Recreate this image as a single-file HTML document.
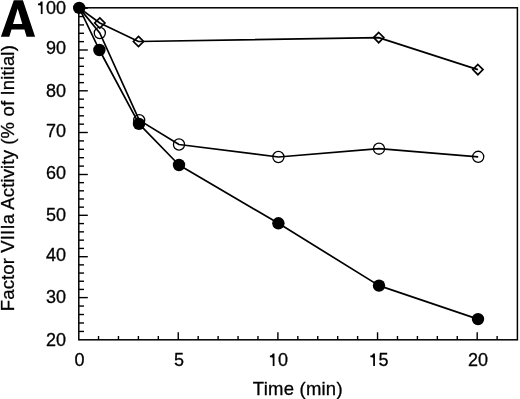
<!DOCTYPE html>
<html><head><meta charset="utf-8"><style>
html,body{margin:0;padding:0;background:#fff;}
body{width:520px;height:399px;overflow:hidden;}
svg{display:block;will-change:transform;font-family:"Liberation Sans",sans-serif;font-size:18px;}
text{stroke:#000;stroke-width:0.3px;}
</style></head><body>
<svg width="520" height="399" viewBox="0 0 520 399">
<rect x="78.8" y="7.8" width="438.60" height="332.00" fill="none" stroke="#000" stroke-width="1.5"/>
<line x1="78.8" y1="331.44" x2="84.00" y2="331.44" stroke="#000" stroke-width="1.4"/>
<line x1="78.8" y1="322.98" x2="84.00" y2="322.98" stroke="#000" stroke-width="1.4"/>
<line x1="78.8" y1="314.52" x2="84.00" y2="314.52" stroke="#000" stroke-width="1.4"/>
<line x1="78.8" y1="306.06" x2="84.00" y2="306.06" stroke="#000" stroke-width="1.4"/>
<line x1="78.8" y1="297.60" x2="87.80" y2="297.60" stroke="#000" stroke-width="1.4"/>
<line x1="78.8" y1="289.42" x2="84.00" y2="289.42" stroke="#000" stroke-width="1.4"/>
<line x1="78.8" y1="281.24" x2="84.00" y2="281.24" stroke="#000" stroke-width="1.4"/>
<line x1="78.8" y1="273.06" x2="84.00" y2="273.06" stroke="#000" stroke-width="1.4"/>
<line x1="78.8" y1="264.88" x2="84.00" y2="264.88" stroke="#000" stroke-width="1.4"/>
<line x1="78.8" y1="256.70" x2="87.80" y2="256.70" stroke="#000" stroke-width="1.4"/>
<line x1="78.8" y1="248.42" x2="84.00" y2="248.42" stroke="#000" stroke-width="1.4"/>
<line x1="78.8" y1="240.14" x2="84.00" y2="240.14" stroke="#000" stroke-width="1.4"/>
<line x1="78.8" y1="231.86" x2="84.00" y2="231.86" stroke="#000" stroke-width="1.4"/>
<line x1="78.8" y1="223.58" x2="84.00" y2="223.58" stroke="#000" stroke-width="1.4"/>
<line x1="78.8" y1="215.30" x2="87.80" y2="215.30" stroke="#000" stroke-width="1.4"/>
<line x1="78.8" y1="207.14" x2="84.00" y2="207.14" stroke="#000" stroke-width="1.4"/>
<line x1="78.8" y1="198.98" x2="84.00" y2="198.98" stroke="#000" stroke-width="1.4"/>
<line x1="78.8" y1="190.82" x2="84.00" y2="190.82" stroke="#000" stroke-width="1.4"/>
<line x1="78.8" y1="182.66" x2="84.00" y2="182.66" stroke="#000" stroke-width="1.4"/>
<line x1="78.8" y1="174.50" x2="87.80" y2="174.50" stroke="#000" stroke-width="1.4"/>
<line x1="78.8" y1="166.10" x2="84.00" y2="166.10" stroke="#000" stroke-width="1.4"/>
<line x1="78.8" y1="157.70" x2="84.00" y2="157.70" stroke="#000" stroke-width="1.4"/>
<line x1="78.8" y1="149.30" x2="84.00" y2="149.30" stroke="#000" stroke-width="1.4"/>
<line x1="78.8" y1="140.90" x2="84.00" y2="140.90" stroke="#000" stroke-width="1.4"/>
<line x1="78.8" y1="132.50" x2="87.80" y2="132.50" stroke="#000" stroke-width="1.4"/>
<line x1="78.8" y1="124.16" x2="84.00" y2="124.16" stroke="#000" stroke-width="1.4"/>
<line x1="78.8" y1="115.82" x2="84.00" y2="115.82" stroke="#000" stroke-width="1.4"/>
<line x1="78.8" y1="107.48" x2="84.00" y2="107.48" stroke="#000" stroke-width="1.4"/>
<line x1="78.8" y1="99.14" x2="84.00" y2="99.14" stroke="#000" stroke-width="1.4"/>
<line x1="78.8" y1="90.80" x2="87.80" y2="90.80" stroke="#000" stroke-width="1.4"/>
<line x1="78.8" y1="82.64" x2="84.00" y2="82.64" stroke="#000" stroke-width="1.4"/>
<line x1="78.8" y1="74.48" x2="84.00" y2="74.48" stroke="#000" stroke-width="1.4"/>
<line x1="78.8" y1="66.32" x2="84.00" y2="66.32" stroke="#000" stroke-width="1.4"/>
<line x1="78.8" y1="58.16" x2="84.00" y2="58.16" stroke="#000" stroke-width="1.4"/>
<line x1="78.8" y1="50.00" x2="87.80" y2="50.00" stroke="#000" stroke-width="1.4"/>
<line x1="78.8" y1="41.64" x2="84.00" y2="41.64" stroke="#000" stroke-width="1.4"/>
<line x1="78.8" y1="33.28" x2="84.00" y2="33.28" stroke="#000" stroke-width="1.4"/>
<line x1="78.8" y1="24.92" x2="84.00" y2="24.92" stroke="#000" stroke-width="1.4"/>
<line x1="78.8" y1="16.56" x2="84.00" y2="16.56" stroke="#000" stroke-width="1.4"/>
<line x1="78.8" y1="8.20" x2="87.80" y2="8.20" stroke="#000" stroke-width="1.4"/>
<line x1="98.53" y1="339.8" x2="98.53" y2="336.00" stroke="#000" stroke-width="1.4"/>
<line x1="118.46" y1="339.8" x2="118.46" y2="336.00" stroke="#000" stroke-width="1.4"/>
<line x1="138.39" y1="339.8" x2="138.39" y2="336.00" stroke="#000" stroke-width="1.4"/>
<line x1="158.32" y1="339.8" x2="158.32" y2="336.00" stroke="#000" stroke-width="1.4"/>
<line x1="178.25" y1="339.8" x2="178.25" y2="332.30" stroke="#000" stroke-width="1.4"/>
<line x1="198.18" y1="339.8" x2="198.18" y2="336.00" stroke="#000" stroke-width="1.4"/>
<line x1="218.11" y1="339.8" x2="218.11" y2="336.00" stroke="#000" stroke-width="1.4"/>
<line x1="238.04" y1="339.8" x2="238.04" y2="336.00" stroke="#000" stroke-width="1.4"/>
<line x1="257.97" y1="339.8" x2="257.97" y2="336.00" stroke="#000" stroke-width="1.4"/>
<line x1="277.90" y1="339.8" x2="277.90" y2="332.30" stroke="#000" stroke-width="1.4"/>
<line x1="297.83" y1="339.8" x2="297.83" y2="336.00" stroke="#000" stroke-width="1.4"/>
<line x1="317.76" y1="339.8" x2="317.76" y2="336.00" stroke="#000" stroke-width="1.4"/>
<line x1="337.69" y1="339.8" x2="337.69" y2="336.00" stroke="#000" stroke-width="1.4"/>
<line x1="357.62" y1="339.8" x2="357.62" y2="336.00" stroke="#000" stroke-width="1.4"/>
<line x1="377.55" y1="339.8" x2="377.55" y2="332.30" stroke="#000" stroke-width="1.4"/>
<line x1="397.48" y1="339.8" x2="397.48" y2="336.00" stroke="#000" stroke-width="1.4"/>
<line x1="417.41" y1="339.8" x2="417.41" y2="336.00" stroke="#000" stroke-width="1.4"/>
<line x1="437.34" y1="339.8" x2="437.34" y2="336.00" stroke="#000" stroke-width="1.4"/>
<line x1="457.27" y1="339.8" x2="457.27" y2="336.00" stroke="#000" stroke-width="1.4"/>
<line x1="477.20" y1="339.8" x2="477.20" y2="332.30" stroke="#000" stroke-width="1.4"/>
<line x1="497.13" y1="339.8" x2="497.13" y2="336.00" stroke="#000" stroke-width="1.4"/>
<path d="M42.57,13.95 H40.82 V5.75 C40.02,5.15 38.82,5.15 37.97,5.15 V3.55 C39.57,3.55 40.42,2.45 40.82,1.45 H42.57 Z"/>
<text x="46.08" y="13.95">0</text>
<text x="56.09" y="13.95">0</text>
<text x="46.08" y="54.45">9</text>
<text x="56.09" y="54.45">0</text>
<text x="46.08" y="97.45">8</text>
<text x="56.09" y="97.45">0</text>
<text x="46.08" y="137.05">7</text>
<text x="56.09" y="137.05">0</text>
<text x="46.08" y="178.95">6</text>
<text x="56.09" y="178.95">0</text>
<text x="46.08" y="221.25">5</text>
<text x="56.09" y="221.25">0</text>
<text x="46.08" y="261.35">4</text>
<text x="56.09" y="261.35">0</text>
<text x="46.08" y="303.45">3</text>
<text x="56.09" y="303.45">0</text>
<text x="46.08" y="345.95">2</text>
<text x="56.09" y="345.95">0</text>
<text x="74.39" y="366.00">0</text>
<text x="173.99" y="366.00">5</text>
<path d="M274.49,366.00 H272.74 V357.80 C271.94,357.20 270.74,357.20 269.89,357.20 V355.60 C271.49,355.60 272.34,354.50 272.74,353.50 H274.49 Z"/>
<text x="278.00" y="366.00">0</text>
<path d="M374.94,366.00 H373.19 V357.80 C372.39,357.20 371.19,357.20 370.34,357.20 V355.60 C371.94,355.60 372.79,354.50 373.19,353.50 H374.94 Z"/>
<text x="378.45" y="366.00">5</text>
<text x="467.99" y="366.00">2</text>
<text x="478.00" y="366.00">0</text>
<text x="297.7" y="394.6" text-anchor="middle" font-size="18.5" textLength="89.7" lengthAdjust="spacing">Time (min)</text>
<text transform="translate(14.2,178.2) rotate(-90)" text-anchor="middle" font-size="18.5" textLength="266.0" lengthAdjust="spacing">Factor VIIIa Activity (% of Initial)</text>
<path fill-rule="evenodd" d="M0.9,36.8 L13.8,0.2 L22.9,0.2 L35.1,36.8 L26.6,36.8 L24.4,29.6 L11.5,29.6 L9.3,36.8 Z M13.0,24.0 L22.3,24.0 L17.7,8.4 Z"/>
<polyline points="79.20,7.90 99.80,23.00 138.50,41.50 378.70,37.60 477.90,69.60" fill="none" stroke="#000" stroke-width="1.7" stroke-linejoin="round"/>
<polyline points="79.20,7.90 99.80,33.00 139.20,120.10 179.00,144.50 278.40,157.00 379.00,148.70 478.20,156.80" fill="none" stroke="#000" stroke-width="1.7" stroke-linejoin="round"/>
<polyline points="79.20,7.90 99.40,50.00 139.00,123.90 179.00,165.00 278.40,223.30 379.00,285.60 478.00,319.10" fill="none" stroke="#000" stroke-width="1.7" stroke-linejoin="round"/>
<path d="M99.80,17.90 L104.90,23.00 L99.80,28.10 L94.70,23.00 Z" fill="none" stroke="#000" stroke-width="1.7"/>
<path d="M138.50,36.40 L143.60,41.50 L138.50,46.60 L133.40,41.50 Z" fill="none" stroke="#000" stroke-width="1.7"/>
<path d="M378.70,32.50 L383.80,37.60 L378.70,42.70 L373.60,37.60 Z" fill="none" stroke="#000" stroke-width="1.7"/>
<path d="M477.90,64.50 L483.00,69.60 L477.90,74.70 L472.80,69.60 Z" fill="none" stroke="#000" stroke-width="1.7"/>
<circle cx="99.80" cy="33.00" r="5.55" fill="none" stroke="#000" stroke-width="1.3"/>
<circle cx="139.20" cy="120.10" r="5.55" fill="none" stroke="#000" stroke-width="1.3"/>
<circle cx="179.00" cy="144.50" r="5.55" fill="none" stroke="#000" stroke-width="1.3"/>
<circle cx="278.40" cy="157.00" r="5.55" fill="none" stroke="#000" stroke-width="1.3"/>
<circle cx="379.00" cy="148.70" r="5.55" fill="none" stroke="#000" stroke-width="1.3"/>
<circle cx="478.20" cy="156.80" r="5.55" fill="none" stroke="#000" stroke-width="1.3"/>
<circle cx="79.20" cy="7.90" r="6.2" fill="#000"/>
<circle cx="99.40" cy="50.00" r="6.2" fill="#000"/>
<circle cx="139.00" cy="123.90" r="6.2" fill="#000"/>
<circle cx="179.00" cy="165.00" r="6.2" fill="#000"/>
<circle cx="278.40" cy="223.30" r="6.2" fill="#000"/>
<circle cx="379.00" cy="285.60" r="6.2" fill="#000"/>
<circle cx="478.00" cy="319.10" r="6.2" fill="#000"/>
</svg>
</body></html>
